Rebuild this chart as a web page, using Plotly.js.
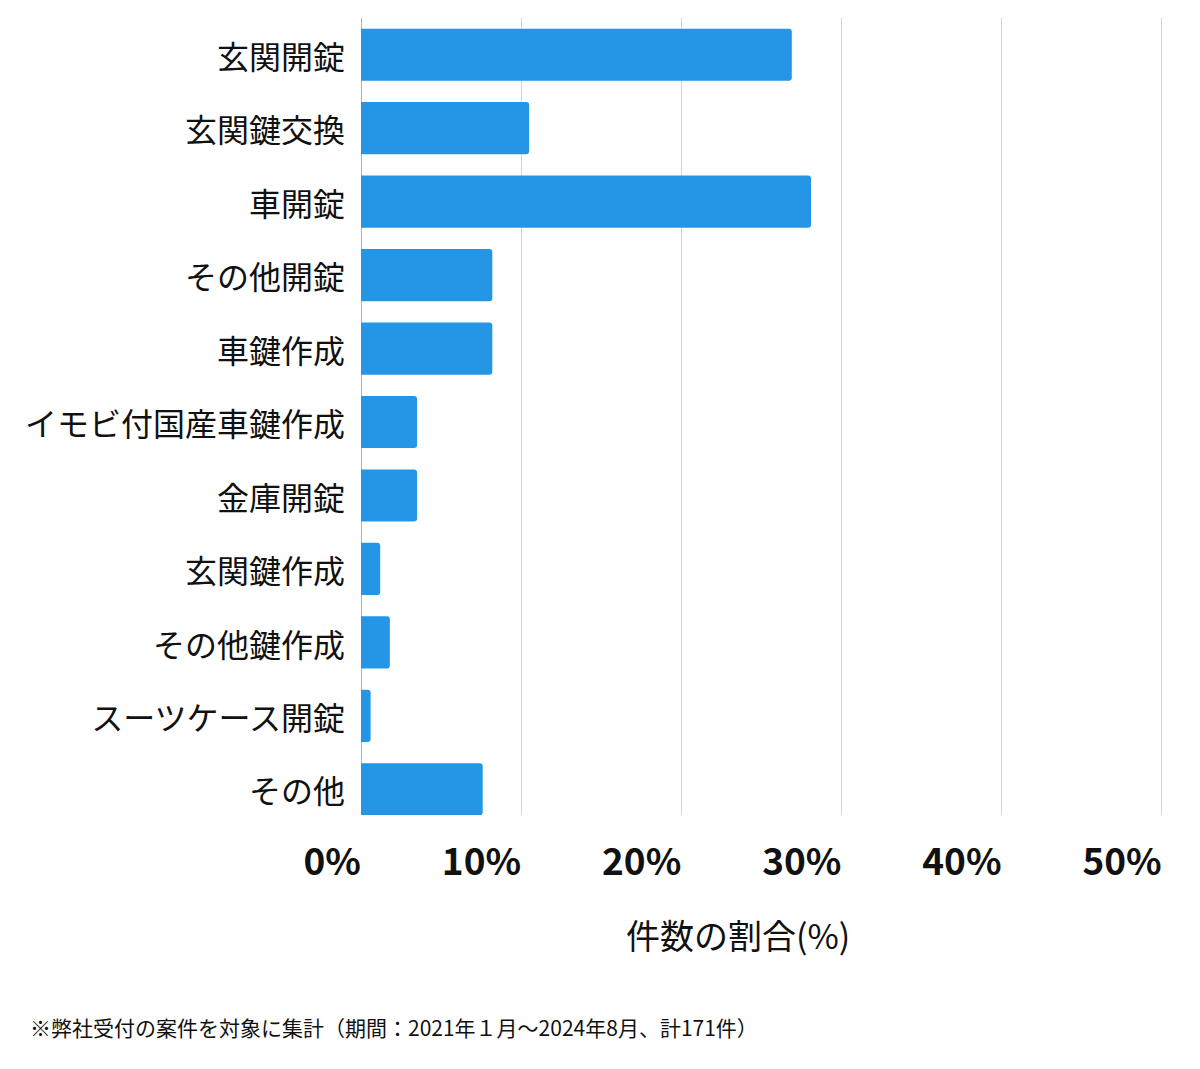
<!DOCTYPE html>
<html>
<head>
<meta charset="utf-8">
<script src="https://cdn.plot.ly/plotly-3.0.1.min.js"></script>
<style>
  html, body { margin: 0; padding: 0; background: #fff; }
  #chart { width: 1200px; height: 1069px; }
</style>
</head>
<body>
<div id="chart"></div>
<script>
// categories top to bottom
const categories = [
  "玄関開錠", "玄関鍵交換", "車開錠", "その他開錠", "車鍵作成",
  "イモビ付国産車鍵作成", "金庫開錠", "玄関鍵作成", "その他鍵作成",
  "スーツケース開錠", "その他"
];
// share of cases (%)
const shares = [26.9, 10.5, 28.1, 8.2, 8.2, 3.5, 3.5, 1.2, 1.8, 0.6, 7.6];
const tickValues = [0, 10, 20, 30, 40, 50];
const tickLabels = ["0%", "10%", "20%", "30%", "40%", "50%"];

const font = '"Noto Sans CJK JP", "Noto Sans", sans-serif';

const trace = {
  type: "bar",
  orientation: "h",
  x: shares,
  y: categories,
  marker: { color: "#2596e6", cornerradius: 3 },
  hoverinfo: "x+y"
};

// plot area in px, used to place the paper annotations
const plotW = 1200 - 361 - 37;
const plotH = 1069 - 18 - 254;

const layout = {
  width: 1200,
  height: 1069,
  margin: { l: 361, r: 37, t: 18, b: 254, pad: 0 },
  paper_bgcolor: "#ffffff",
  plot_bgcolor: "#ffffff",
  showlegend: false,
  bargap: 0.29,
  font: { family: font, color: "#111" },
  xaxis: {
    range: [0, 50.08],  // a hair past 50 so the last gridline is drawn
    tickvals: tickValues,
    ticktext: tickLabels,
    ticklabelposition: "outside left",
    ticklabelstandoff: 22,
    tickfont: { family: font, size: 37, color: "#111", weight: "bold" },
    showgrid: true,
    gridcolor: "#d4d4d4",
    gridwidth: 1,
    zeroline: true,
    zerolinecolor: "#b0b0b0",
    zerolinewidth: 1,
    showline: false,
    ticks: "",
    fixedrange: true
  },
  yaxis: {
    type: "category",
    range: [10.35, -0.5],
    tickfont: { family: font, size: 32, color: "#111", weight: 400 },
    ticklabelstandoff: 15,
    ticklabelshift: -3,
    ticks: "",
    showgrid: false,
    zeroline: false,
    showline: false,
    fixedrange: true
  },
  annotations: [
    {
      xref: "paper", yref: "paper",
      x: (738 - 361) / plotW, y: -(935 - 815) / plotH,
      xanchor: "center", yanchor: "middle",
      showarrow: false,
      text: "件数の割合(%)",
      font: { family: font, size: 34, color: "#111" }
    },
    {
      xref: "paper", yref: "paper",
      x: (28 - 361) / plotW, y: -(1027 - 815) / plotH,
      xanchor: "left", yanchor: "middle",
      showarrow: false,
      text: "※弊社受付の案件を対象に集計（期間：2021年１月〜2024年8月、計171件）",
      font: { family: font, size: 21, color: "#111" }
    }
  ]
};

Plotly.newPlot("chart", [trace], layout, { displayModeBar: false, staticPlot: true });
</script>
</body>
</html>
